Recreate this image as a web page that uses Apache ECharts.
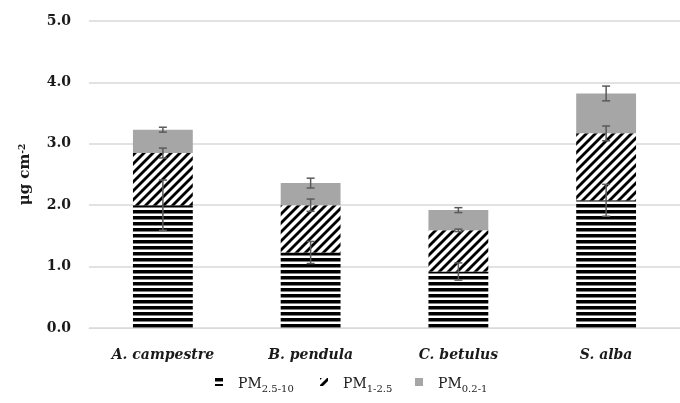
<!DOCTYPE html>
<html>
<head>
<meta charset="utf-8">
<script src="https://cdn.jsdelivr.net/npm/echarts@6/dist/echarts.min.js"></script>
<style>
  html, body { margin: 0; padding: 0; background: #ffffff; }
  #chart { width: 680px; height: 403px; }
</style>
</head>
<body>
<div id="chart"></div>
<script>
// Species on the category axis
const categories = ['A. campestre', 'B. pendula', 'C. betulus', 'S. alba'];

// Deposited particulate matter per size fraction (µg cm-2), stacked
const pm25_10 = [2.00, 1.23, 0.92, 2.08];
const pm1_25 = [0.85, 0.77, 0.67, 1.09];
const pm02_1 = [0.38, 0.36, 0.33, 0.65];

// Standard errors for each fraction
const err25_10 = [0.41, 0.18, 0.14, 0.26];
const err1_25 = [0.08, 0.10, 0.02, 0.12];
const err02_1 = [0.04, 0.08, 0.04, 0.12];

// Value axis ticks
const yTicks = [0, 1, 2, 3, 4, 5];

const seriesNames = ['PM2.5-10', 'PM1-2.5', 'PM0.2-1'];
const legendRich = {
  'PM2.5-10': '{m|PM}{s|2.5-10}',
  'PM1-2.5': '{m|PM}{s|1-2.5}',
  'PM0.2-1': '{m|PM}{s|0.2-1}'
};
const legendLeft = [215, 320, 415];

const serif = '"DejaVu Serif", "Liberation Serif", serif';

// Horizontal stripe fill
function stripePattern() {
  const c = document.createElement('canvas');
  c.width = 6; c.height = 6;
  const g = c.getContext('2d');
  g.fillStyle = '#ffffff';
  g.fillRect(0, 0, 6, 6);
  g.fillStyle = '#000000';
  g.fillRect(0, 0, 6, 3.5);
  return c;
}

// Upward diagonal hatch fill
function hatchPattern() {
  const s = 9;
  const c = document.createElement('canvas');
  c.width = s; c.height = s;
  const g = c.getContext('2d');
  g.fillStyle = '#ffffff';
  g.fillRect(0, 0, s, s);
  g.strokeStyle = '#000000';
  g.lineWidth = 2.8;
  for (let k = -1; k <= 1; k++) {
    g.beginPath();
    g.moveTo(k * s - 1, s + 1);
    g.lineTo(k * s + s + 1, -1);
    g.stroke();
  }
  return c;
}

// Cumulative tops of each stacked segment
const top1 = pm25_10.slice();
const top2 = pm25_10.map((v, i) => v + pm1_25[i]);
const top3 = top2.map((v, i) => v + pm02_1[i]);

const errorData = [];
[[top1, err25_10], [top2, err1_25], [top3, err02_1]].forEach(([tops, errs]) => {
  tops.forEach((t, i) => errorData.push([i, t, errs[i]]));
});

function renderError(params, api) {
  const x = api.value(0);
  const y = api.value(1);
  const e = api.value(2);
  const hi = api.coord([x, y + e]);
  const lo = api.coord([x, y - e]);
  const cap = 4;
  const style = { stroke: '#5a5a5a', lineWidth: 1.5 };
  return {
    type: 'group',
    children: [
      { type: 'line', shape: { x1: hi[0], y1: hi[1], x2: lo[0], y2: lo[1] }, style },
      { type: 'line', shape: { x1: hi[0] - cap, y1: hi[1], x2: hi[0] + cap, y2: hi[1] }, style },
      { type: 'line', shape: { x1: lo[0] - cap, y1: lo[1], x2: lo[0] + cap, y2: lo[1] }, style }
    ]
  };
}

const fills = [
  { image: stripePattern(), repeat: 'repeat' },
  { image: hatchPattern(), repeat: 'repeat' },
  '#a6a6a6'
];
const values = [pm25_10, pm1_25, pm02_1];

// One legend entry per box so each sits at its own x position
const legends = seriesNames.map((name, k) => ({
  data: [name],
  bottom: 9,
  left: legendLeft[k],
  padding: 0,
  itemWidth: 8,
  itemHeight: 8,
  icon: 'rect',
  selectedMode: false,
  formatter: n => legendRich[n],
  textStyle: {
    fontFamily: serif,
    rich: {
      m: { fontFamily: serif, fontSize: 14, color: '#1a1a1a', verticalAlign: 'bottom', lineHeight: 18, padding: [0, 0, 0, 10] },
      s: { fontFamily: serif, fontSize: 10, color: '#1a1a1a', verticalAlign: 'bottom', lineHeight: 14, padding: [0, 0, -3, 0] }
    }
  }
}));

const chart = echarts.init(document.getElementById('chart'), null, { renderer: 'canvas' });

chart.setOption({
  animation: false,
  backgroundColor: '#ffffff',
  grid: { left: 89, top: 21, width: 592, bottom: 75, containLabel: false },
  legend: legends,
  xAxis: {
    type: 'category',
    data: categories,
    axisLine: { lineStyle: { color: '#d9d9d9', width: 1 } },
    axisTick: { show: false },
    axisLabel: {
      margin: 20,
      fontFamily: serif,
      fontStyle: 'italic',
      fontWeight: 'bold',
      fontSize: 14,
      color: '#1a1a1a'
    }
  },
  yAxis: {
    type: 'value',
    min: yTicks[0],
    max: yTicks[yTicks.length - 1],
    interval: 1,
    name: '{a|μg cm}{b|-2}',
    nameLocation: 'middle',
    nameGap: 56,
    nameRotate: 90,
    nameTextStyle: {
      rich: {
        a: { fontFamily: serif, fontSize: 15, fontWeight: 'bold', color: '#1a1a1a', verticalAlign: 'bottom', lineHeight: 18 },
        b: { fontFamily: serif, fontSize: 9, fontWeight: 'bold', color: '#1a1a1a', verticalAlign: 'bottom', lineHeight: 18, padding: [0, 0, 6, 0] }
      }
    },
    axisLine: { show: false },
    axisTick: { show: false },
    splitLine: { lineStyle: { color: '#d9d9d9', width: 1.5 } },
    axisLabel: {
      margin: 18,
      fontFamily: serif,
      fontWeight: 'bold',
      fontSize: 14,
      color: '#1a1a1a',
      formatter: v => v.toFixed(1)
    }
  },
  series: seriesNames.map((name, k) => ({
    name,
    type: 'bar',
    stack: 'pm',
    barWidth: '40.5%',
    data: values[k],
    itemStyle: { color: fills[k] },
    emphasis: { disabled: true }
  })).concat([{
    type: 'custom',
    name: 'err',
    renderItem: renderError,
    data: errorData,
    encode: { x: 0, y: 1 },
    z: 10,
    silent: true
  }])
});
</script>
</body>
</html>
